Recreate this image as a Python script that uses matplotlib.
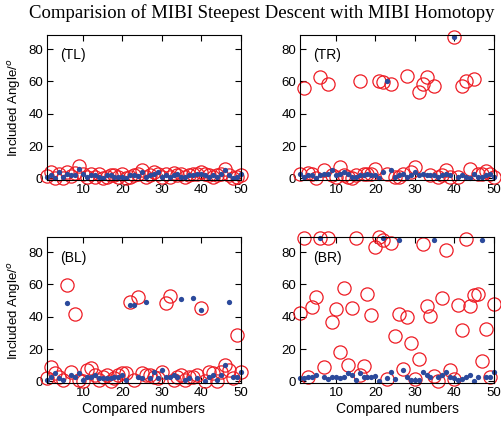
import numpy as np
import matplotlib
matplotlib.use('Agg')
import matplotlib.pyplot as plt

# compared numbers 1..50
x = np.arange(1, 51)

# Included angles (degrees)
# TL panel
tl_red = [1.5, 4, 0.5, 3, 0.5, 4, 1.5, 3.5, 7.5, 2.5,
          1, 3, 1, 3, 0, 1, 2, 2, 1, 2.5,
          0.5, 1, 2, 2.5, 5, 1, 2, 4, 3, 1,
          3, 1, 3.5, 2, 3, 1, 2, 2.5, 3, 4,
          3, 2, 1, 2, 3, 6, 2, 0.5, 1, 2]
tl_blue = [1, 2, 0.5, 4, 1, 3, 2, 2, 6, 3,
           1, 2, 2, 1, 0.5, 2, 2, 1, 1, 1,
           0.5, 2, 2, 1.5, 4, 1, 2, 3, 4, 1,
           2, 1, 2, 3, 1, 1, 2, 2, 3, 3,
           2, 1, 2, 1, 3, 5, 2, 0.5, 1, 3]
# TR panel
tr_red = [3, 56, 3.5, 3, 0.5, 63, 5, 58.5, 2, 1,
          7, 2, 1, 0, 2, 60.3, 3, 3, 3, 6,
          60.3, 59.5, 2.5, 58.5, 1, 1, 3, 63.6, 4, 7,
          53.5, 58.5, 63, 2, 57, 1, 2, 5, 1, 87.6,
          1, 57.2, 60.3, 6, 61.5, 3, 3, 4.5, 3, 1]
tr_blue = [3, 1, 2, 2, 0.5, 2, 3, 3, 5, 2,
           3, 4, 3, 1, 1, 2, 2, 3, 2, 2,
           0, 4, 60, 5, 1, 2, 3, 1, 2, 4,
           2, 3, 2, 2, 2, 1, 2, 3, 2, 87.5,
           1, 2, 1, 0, 3, 1, 1, 2, 3, 1]
# BL panel
bl_red = [2, 9, 5, 3, 1, 59.7, 6, 41.9, 1, 0,
          7, 8, 4, 1, 3, 4, 0, 2, 4, 5,
          5, 49.3, 1, 52.4, 5, 4, 4, 3, 2, 6,
          48.3, 53, 1, 3, 4, 1, 3, 3, 4, 45.6,
          0, 6, 5, 0, 6, 10, 7, 2, 28.6, 6]
bl_blue = [1, 3, 5, 2, 1, 48.5, 4, 3, 5, 1,
           3, 3, 4, 2, 2, 2, 2, 3, 3, 4,
           1, 47.3, 47.3, 3, 2, 49.3, 2, 6, 2, 7,
           3, 3, 4, 3, 51, 1, 2, 51.8, 2, 44,
           0, 3, 4, 1, 4, 10, 49, 3, 3, 6]
# BR panel
br_red = [42, 88.7, 2.5, 46, 52.4, 88.7, 8.7, 88.7, 37, 45,
          18, 57.7, 10, 45.6, 88.7, 3.7, 9.7, 53.8, 40.8, 82.9,
          89.3, 87.6, 1.4, 85.6, 28, 41.9, 7.8, 40, 23.5, 1.4,
          14, 85, 46.8, 40.6, 3.5, 0, 51.5, 81, 7.2, 1.4,
          47.4, 31.8, 88, 46.8, 53.2, 54, 12.8, 32.4, 2.7, 47.8]
br_blue = [2, 2, 3, 3, 4, 88.7, 3, 1.5, 3, 3,
           2, 3, 5, 4, 1, 5, 3, 2.5, 3, 3.5,
           0, 88.7, 2, 6, 1.5, 87.2, 7, 3, 1, 1,
           1, 6, 4, 2.5, 87.6, 3, 4, 6, 3, 2,
           1, 1.5, 3, 4, 0, 3, 87.6, 3, 2.5, 6]

panels = [('(TL)', tl_red, tl_blue),
          ('(TR)', tr_red, tr_blue),
          ('(BL)', bl_red, bl_blue),
          ('(BR)', br_red, br_blue)]

plt.rcParams['font.family'] = 'Liberation Sans'

fig = plt.figure(figsize=(5.02, 4.21), dpi=100)

lefts = [0.0946, 0.5986]
bottoms = [0.5724, 0.0903]
w, h = 0.3845, 0.3456

for k, (tag, red, blue) in enumerate(panels):
    row, col = k // 2, k % 2
    ax = fig.add_axes([lefts[col], bottoms[row], w, h])
    ax.plot(x, red, 'o', mfc='none', mec='#ee1c24', ms=9.5, mew=0.9, clip_on=False)
    ax.plot(x, blue, 'o', color='#2b4a9c', ms=3.8, mew=0, clip_on=False)
    ax.set_xlim(1, 50)
    ax.set_ylim(-1, 89)
    ax.set_xticks([10, 20, 30, 40, 50])
    ax.set_yticks([0, 20, 40, 60, 80])
    ax.tick_params(direction='in', top=True, right=True, length=4, labelsize=9.5, pad=3)
    ax.text(4.3, 76.5, tag, fontsize=10, ha='left', va='center')
    if col == 0:
        ax.set_ylabel(r'Included Angle/$^o$', fontsize=9.5, labelpad=4)
    if row == 1:
        ax.set_xlabel('Compared numbers', fontsize=10, labelpad=2)

fig.text(0.521, 1 - 13.5 / 421, 'Comparision of MIBI Steepest Descent with MIBI Homotopy',
         family='Liberation Serif', fontsize=13.5, ha='center', va='center')

fig.savefig('out.png', dpi=100)
